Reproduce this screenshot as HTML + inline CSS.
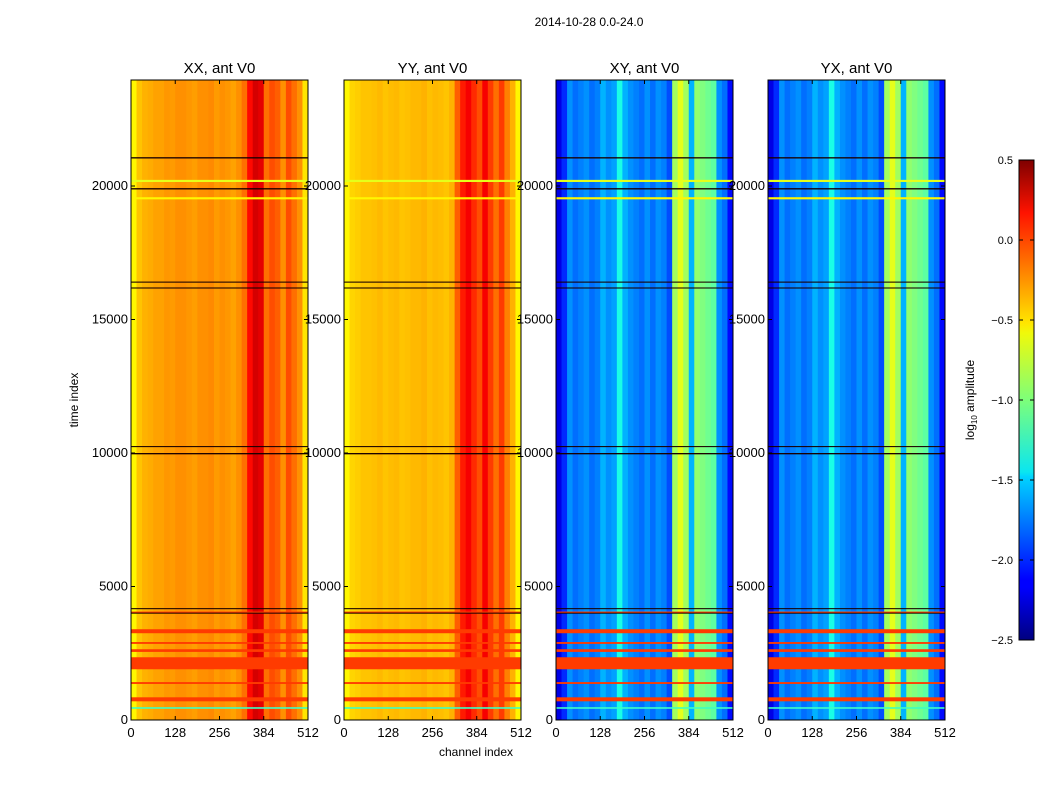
<!DOCTYPE html>
<html><head><meta charset="utf-8"><style>
body{margin:0;background:#fff;font-family:"Liberation Sans",sans-serif}
svg text{font-family:"Liberation Sans",sans-serif;fill:#000}
</style></head><body>
<svg id="fig" width="1050" height="800" xmlns="http://www.w3.org/2000/svg">
<text x="589" y="26" font-size="12" text-anchor="middle">2014-10-28 0.0-24.0</text>
<text x="476" y="756" font-size="12" text-anchor="middle">channel index</text>
<text transform="translate(78,400) rotate(-90)" font-size="12" text-anchor="middle">time index</text>
<defs><linearGradient id="jet" x1="0" y1="1" x2="0" y2="0">
<stop offset="0" stop-color="#00007f"/><stop offset="0.11" stop-color="#0000ff"/><stop offset="0.125" stop-color="#0000ff"/><stop offset="0.34" stop-color="#00d4ff"/><stop offset="0.35" stop-color="#0ae6f0"/><stop offset="0.5" stop-color="#7dff7a"/><stop offset="0.64" stop-color="#f0f90a"/><stop offset="0.66" stop-color="#ffe600"/><stop offset="0.89" stop-color="#ff1300"/><stop offset="1" stop-color="#7f0000"/></linearGradient></defs>
<g id="panels"></g>
<g id="cbar"></g>
</svg>
<script>
const titles=["XX, ant V0","YY, ant V0","XY, ant V0","YX, ant V0"];
const xTicks=[0,128,256,384,512];
const yTicks=[0,5000,10000,15000,20000];
const cbTicks=[-2.5,-2.0,-1.5,-1.0,-0.5,0.0,0.5];
// column profiles: 32 bins of 16 channels, log10 amplitude
const profXX=[-0.6,-0.45,-0.4,-0.38,-0.35,-0.35,-0.32,-0.33,-0.3,-0.3,-0.32,-0.34,-0.3,-0.3,-0.28,-0.33,-0.3,-0.32,-0.35,-0.3,-0.2,0.1,0.25,0.2,-0.2,-0.1,-0.15,-0.3,-0.1,-0.2,-0.3,-0.55];
const profYY=[-0.6,-0.5,-0.48,-0.45,-0.45,-0.44,-0.42,-0.45,-0.43,-0.42,-0.45,-0.44,-0.42,-0.42,-0.4,-0.44,-0.42,-0.43,-0.45,-0.4,-0.15,0.05,0.15,0.0,-0.1,0.15,-0.05,-0.2,-0.05,-0.25,-0.4,-0.6];
const profXY=[-2.2,-2.0,-1.7,-1.8,-1.75,-1.7,-1.8,-1.75,-1.6,-1.7,-1.65,-1.3,-1.6,-1.7,-1.75,-1.8,-1.7,-1.8,-1.7,-1.75,-1.9,-0.9,-0.7,-0.9,-1.6,-0.95,-1.0,-1.05,-1.1,-1.7,-1.8,-2.1];
const profYX=profXY;
const profiles=[profXX,profYY,profXY,profYX];
// time bands: start, end, value (null = flagged/black)
const bandStart=[1900,700,3250,2550,1350,2850,4000,420,20150,19500,21030,19870,16380,16160,9950,4150,3990,10220];
const bandEnd=[2350,850,3400,2650,1420,2920,4060,480,20230,19580,21080,19920,16420,16200,10000,4190,4020,10260];
const bandVal=[-0.05,-0.05,-0.05,-0.05,-0.05,-0.05,-0.05,-1.2,-0.7,-0.6,null,null,null,null,null,null,null,null];
const vmin=-2.5,vmax=0.5,tMax=23970;
function jet(v){let t=(v-vmin)/(vmax-vmin);t=Math.max(0,Math.min(1,t));
 const r=Math.max(0,Math.min(1,1.5-Math.abs(4*t-3))),g=Math.max(0,Math.min(1,1.5-Math.abs(4*t-2))),b=Math.max(0,Math.min(1,1.5-Math.abs(4*t-1)));
 return `rgb(${Math.round(r*255)},${Math.round(g*255)},${Math.round(b*255)})`;}
const NS="http://www.w3.org/2000/svg";
function mk(tag,attrs,parent){const e=document.createElementNS(NS,tag);for(const k in attrs)e.setAttribute(k,attrs[k]);parent.appendChild(e);return e;}
const panelX=[131,344,556,768],pw=177,pTop=80,pBot=720;
const yS=t=>pBot-(t/tMax)*(pBot-pTop);
const G=document.getElementById('panels');
titles.forEach((ti,p)=>{
 const x0=panelX[p];const xS=c=>x0+c/512*pw;
 const g=mk('g',{},G);
 
 
 const prof=profiles[p];
 prof.forEach((v,i)=>{const r=mk('rect',{x:xS(i*16),y:pTop,width:xS(i*16+16)-xS(i*16)+0.5,height:pBot-pTop,fill:jet(v)},g);
  
  });
 bandStart.forEach((s,i)=>{const v=bandVal[i];
  if(p===1&&v===null&&i<12)return;
  const r=mk('rect',{x:x0,y:yS(bandEnd[i]),width:pw,height:Math.max(1,yS(bandStart[i])-yS(bandEnd[i])),fill:v===null?'#1a0000':jet(v)},g);
  
  });
 mk('rect',{x:x0,y:pTop,width:pw,height:pBot-pTop,fill:'none',stroke:'#000','stroke-width':1},g);
 const t=mk('text',{x:x0+pw/2,y:73,'font-size':15,'text-anchor':'middle'},g);t.textContent=ti;
 
 
 xTicks.forEach(c=>{const x=xS(c);mk('line',{x1:x,x2:x,y1:pBot,y2:pBot-4,stroke:'#000'},g);mk('line',{x1:x,x2:x,y1:pTop,y2:pTop+4,stroke:'#000'},g);
  const l=mk('text',{x:x,y:737,'font-size':13,'text-anchor':'middle'},g);l.textContent=c;
  
  });
 yTicks.forEach(v=>{const y=yS(v);mk('line',{x1:x0,x2:x0+4,y1:y,y2:y,stroke:'#000'},g);mk('line',{x1:x0+pw,x2:x0+pw-4,y1:y,y2:y,stroke:'#000'},g);
  const l=mk('text',{x:x0-3,y:y+4,'font-size':13,'text-anchor':'end'},g);l.textContent=v;
  
  });
});
const C=document.getElementById('cbar');


const cy=v=>640-(v-vmin)/(vmax-vmin)*480;
mk('rect',{x:1019,y:160,width:15,height:480,fill:'url(#jet)',stroke:'#000'},C);
cbTicks.forEach(v=>{const y=cy(v);mk('line',{x1:1019,x2:1023,y1:y,y2:y,stroke:'#000'},C);mk('line',{x1:1034,x2:1030,y1:y,y2:y,stroke:'#000'},C);
 const l=mk('text',{x:1013,y:y+4,'font-size':11,'text-anchor':'end'},C);l.textContent=(v<0?'\u2212':'')+Math.abs(v).toFixed(1);
 
 });
const lab=mk('text',{transform:'translate(974,400) rotate(-90)','font-size':12,'text-anchor':'middle'},C);
lab.innerHTML='log<tspan font-size="8" dy="3">10</tspan><tspan dy="-3"> amplitude</tspan>';


</script>
</body></html>
